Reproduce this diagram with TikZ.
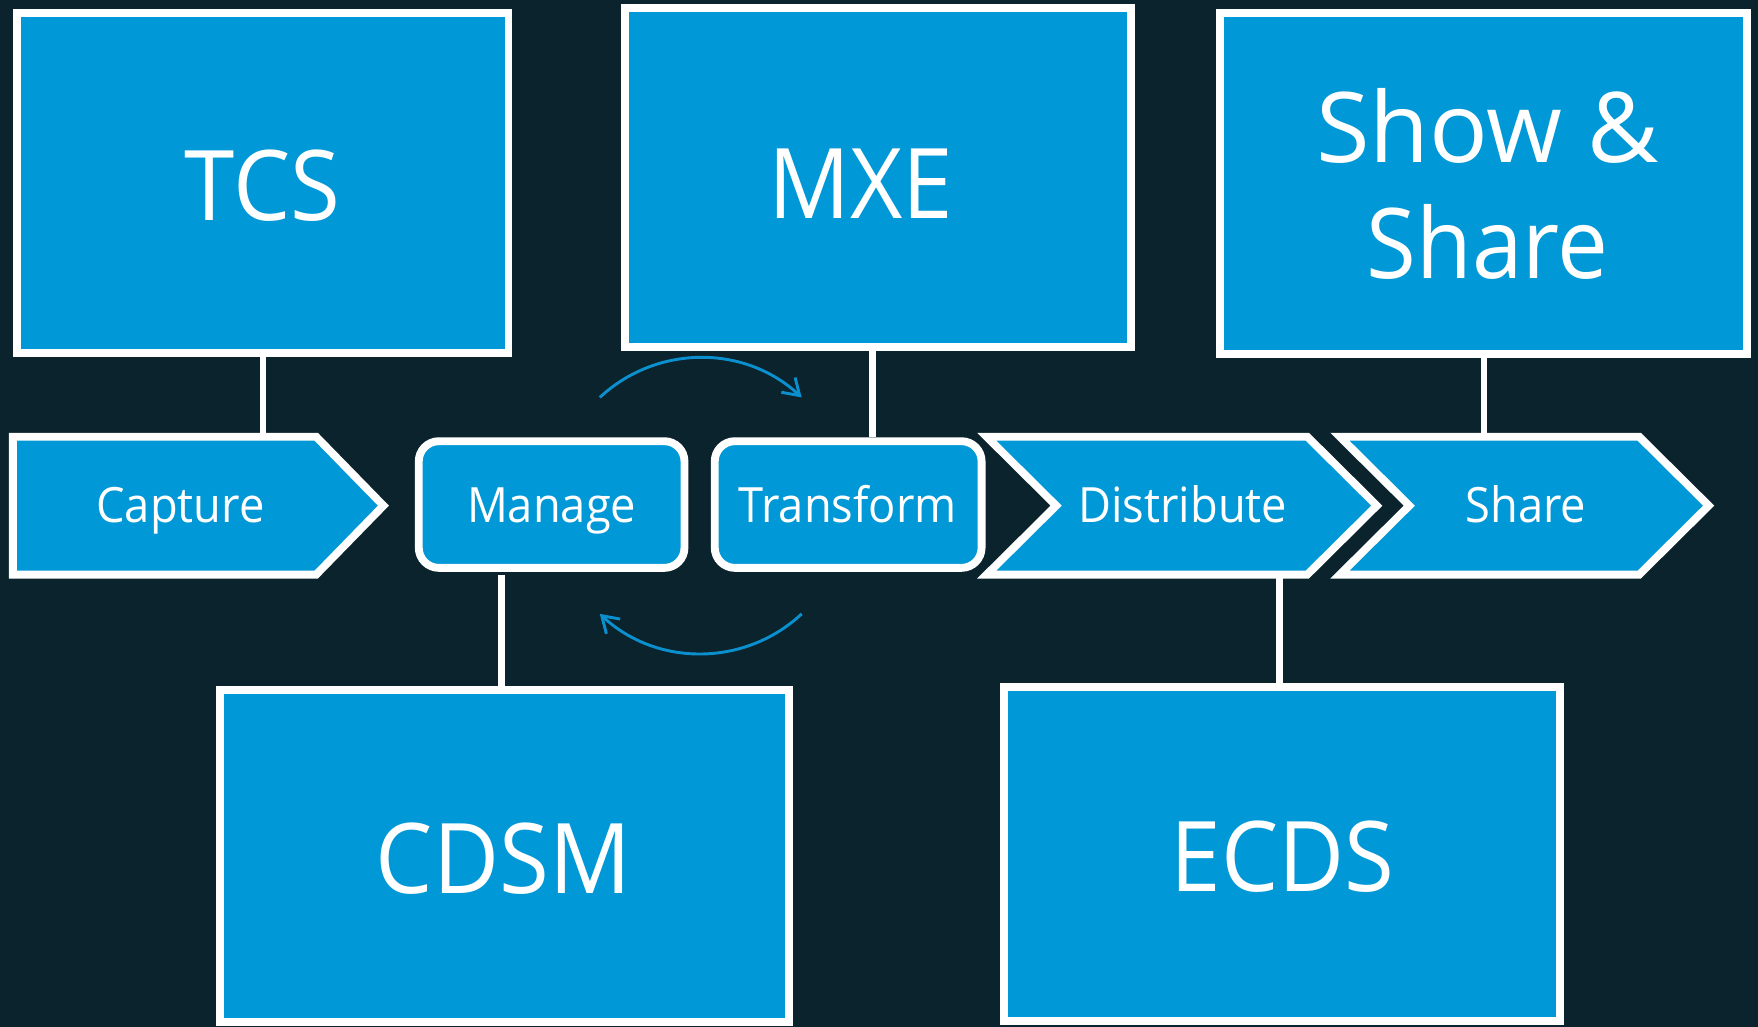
\documentclass[tikz,border=0pt]{standalone}
\usepackage{fontspec}
\setmainfont{Open Sans}
\usepackage{graphicx}
\usetikzlibrary{fit,arrows.meta}
\definecolor{bg}{HTML}{0A232C}
\definecolor{tileblue}{HTML}{0098D6}
\definecolor{arcblue}{HTML}{0A90CE}
\newcommand{\narrowtxt}[1]{\scalebox{0.93}[1]{#1}}
\begin{document}
\begin{tikzpicture}[x=0.5pt,y=-0.5pt,
  tile/.style={draw=white, line width=3.5pt, fill=tileblue, inner sep=0pt, outer sep=0pt},
  pill/.style={tile, rounded corners=9pt},
  stage/.style={draw=white, line width=3.5pt, fill=tileblue},
  frame/.style={inner sep=0pt, outer sep=0pt},
  link/.style={draw=white, line width=3pt},
  big/.style={text=white, font=\fontsize{43.5}{51.5}\selectfont, anchor=base, align=center, inner sep=0pt},
  small/.style={text=white, font=\fontsize{21.7}{26}\selectfont, anchor=base, inner sep=0pt},
  cycarrow/.style={draw=arcblue, line width=1.3pt, -{Straight Barb[length=7pt,width=9pt]}}]

\fill[bg] (0,0) rectangle (1568,916);
\useasboundingbox (0,0) rectangle (1568,916);

% column coordinates for connectors
\coordinate (mxcol) at (778,0);
\coordinate (mgcol) at (447,0);
\coordinate (dicol) at (1141,0);
\coordinate (ac) at (625,451);

% frames of the arrow stages (invisible, for connector ends)
\node[frame, fit={(11.5,389.5) (342,512.5)}] (capture) {};
\node[frame, fit={(878,389.5) (1228,512.5)}] (distribute) {};
\node[frame, fit={(1193,389.5) (1524,512.5)}] (share) {};

% top and bottom boxes (geometry)
\node[tile, fit={(15.5,11.5) (453.5,314.5)}] (tcs) {};
\node[tile, fit={(557.5,7.5) (1008.5,309.5)}] (mxe) {};
\node[tile, fit={(1088.5,11.5) (1558.5,315.5)}] (shs) {};
\node[tile, fit={(196.5,615.5) (703.5,911.5)}] (cdsm) {};
\node[tile, fit={(895.5,612.5) (1391.5,910.5)}] (ecds) {};

% connectors
\draw[link] (tcs.south) -- (tcs.south |- capture.north);
\draw[link] (mxe.south -| mxcol) -- (capture.north -| mxcol);
\draw[link] (shs.south) -- (shs.south |- share.north);
\draw[link] (capture.south -| mgcol) -- (cdsm.north -| mgcol);
\draw[link] (distribute.south -| dicol) -- (ecds.north -| dicol);

% stages
\path[stage] (11.5,389.5) -- (282,389.5) -- (342,451) -- (282,512.5) -- (11.5,512.5) -- cycle;
\node[pill, fit={(373.5,393.5) (610.5,506.5)}] (manage) {};
\node[pill, fit={(637.5,393.5) (875.5,506.5)}] (transform) {};
\path[stage] (880,389.5) -- (1166,389.5) -- (1228,451) -- (1166,512.5) -- (880,512.5) -- (942,451) -- cycle;
\path[stage] (1195,389.5) -- (1462,389.5) -- (1524,451) -- (1462,512.5) -- (1195,512.5) -- (1257,451) -- cycle;

% cycle arrows
\draw[cycarrow] ([shift={(133:66pt)}]ac) arc[start angle=133, end angle=47, radius=66pt];
\draw[cycarrow] ([shift={(-47:66pt)}]ac) arc[start angle=-47, end angle=-133, radius=66pt];

% texts
\node[big] (tcs-t) at (234,197) {\narrowtxt{TCS}};
\node[big] (mxe-t) at (768,195) {\narrowtxt{MXE}};
\node[big] (shs-t) at (1327,248) {Show \&\\\narrowtxt{Share}};
\node[big] (cdsm-t) at (449,797) {\narrowtxt{CDSM}};
\node[big] (ecds-t) at (1144,795) {\narrowtxt{ECDS}};

\node[small] (capture-t) at (161,466) {\narrowtxt{Capture}};
\node[small] (manage-t) at (492,466) {\narrowtxt{Manage}};
\node[small] (transform-t) at (756,466) {\narrowtxt{Transform}};
\node[small] (distribute-t) at (1055,466) {\narrowtxt{Distribute}};
\node[small] (share-t) at (1361,466) {\narrowtxt{Share}};
\end{tikzpicture}
\end{document}
